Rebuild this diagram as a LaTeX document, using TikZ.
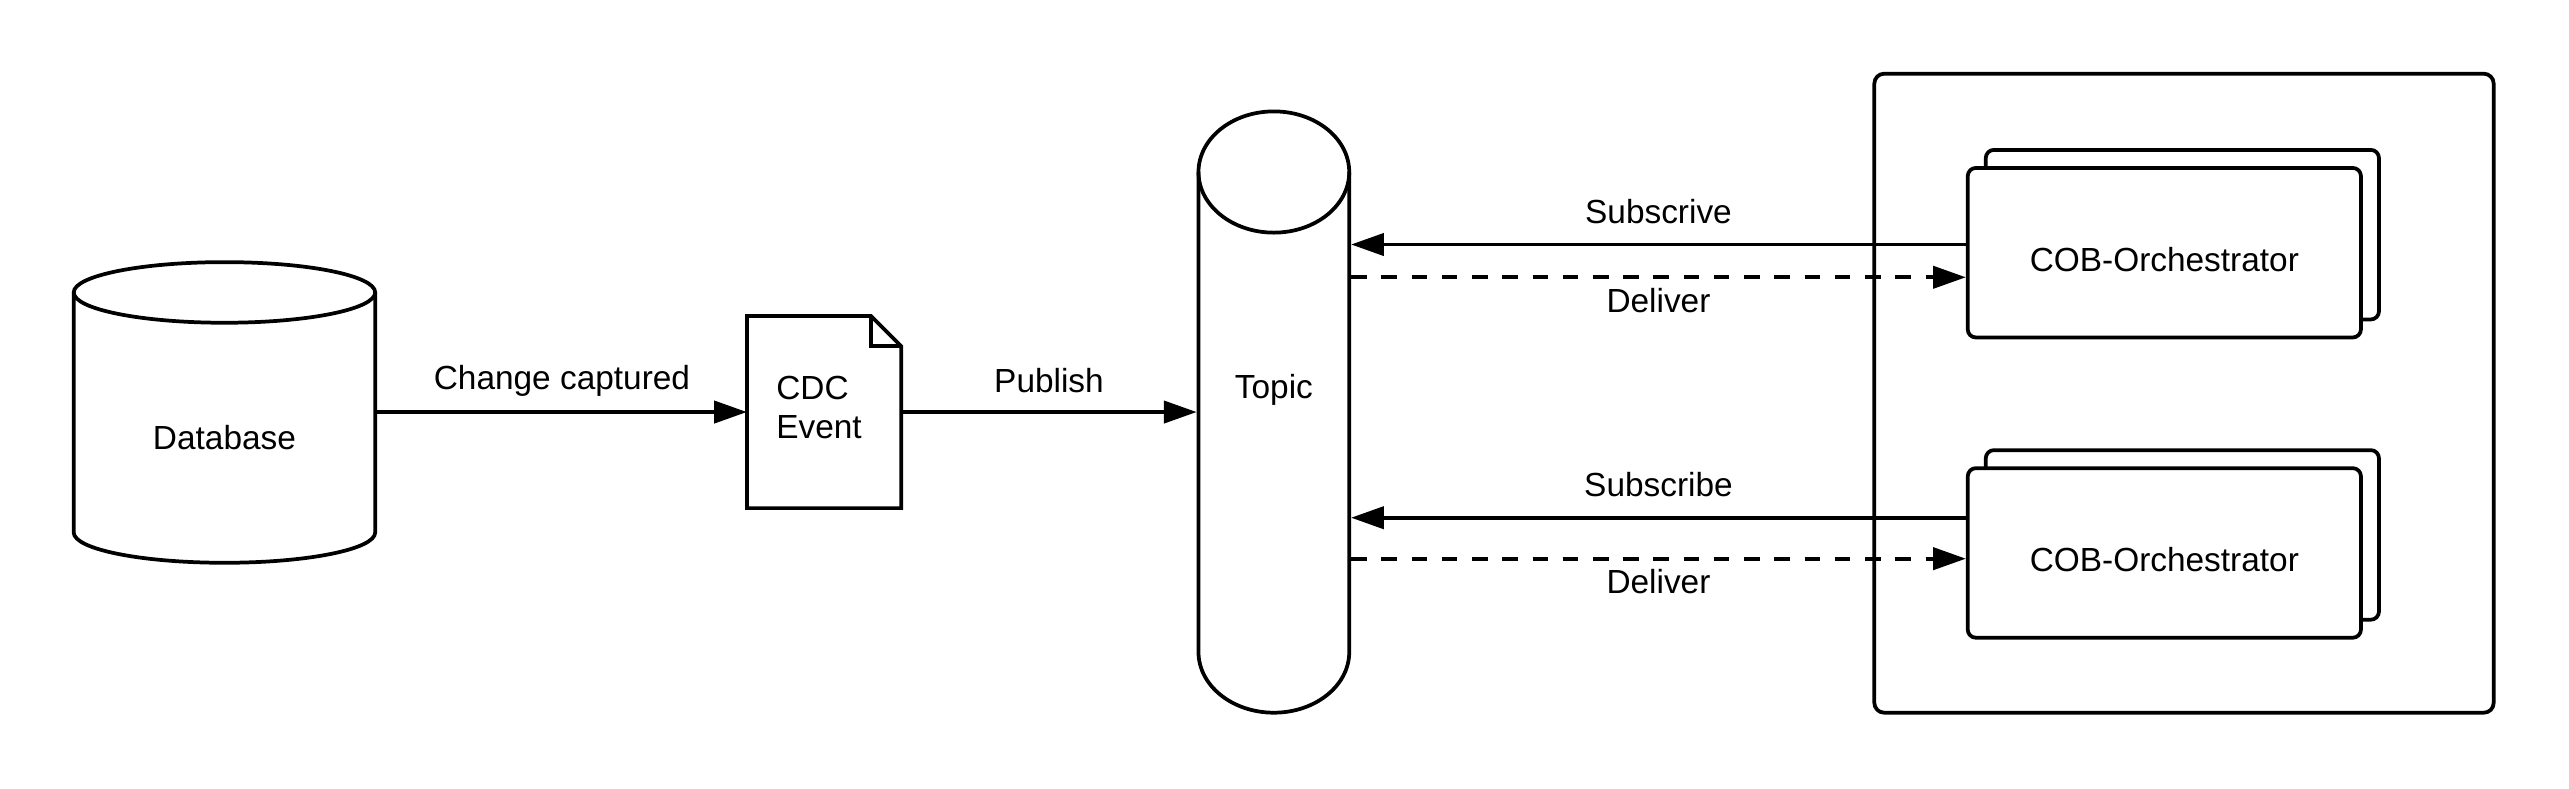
\documentclass[tikz,border=0pt]{standalone}
\usepackage{fontspec}
\setmainfont{Liberation Sans}
\usetikzlibrary{arrows.meta,calc}

\begin{document}
\begin{tikzpicture}[line width=1.3pt,font=\fontsize{11.6}{13.6}\selectfont,
	fleche/.style={-{Triangle[length=0.4cm,width=0.27cm]}},
	pointille/.style={fleche,dash pattern=on 5.4pt off 5.1pt},
	boite/.style={draw,fill=white,rounded corners=0.1cm,minimum width=4.8cm,minimum height=2.07cm}]
					%\draw[help lines] (0,0) grid (31,9);
					\useasboundingbox (0,0) rectangle (31.36,9.62);
					
					%DATABASE
					\draw (2.74,6.05) ellipse (1.84 and 0.37);
					\draw (0.9,6.05) -- (0.9,3.12) arc (180:360:1.84 and 0.37) -- (4.58,6.05);
					\node[minimum width=3.68cm,minimum height=2.92cm,inner sep=0] (db) at (2.74,4.28) {Database};
					
					%CDC EVENT
					\node[minimum width=1.84cm,minimum height=2.3cm,inner sep=0] (cdc) at (10.06,4.59) {};
					\draw (cdc.south west) -- (cdc.north west) -- ($(cdc.north east)+(-0.37,0)$) -- ($(cdc.north east)+(0,-0.37)$) -- (cdc.south east) -- cycle;
					\draw ($(cdc.north east)+(-0.37,0)$) |- ($(cdc.north east)+(0,-0.37)$);
					\node[align=left,anchor=west] (cdctxt) at ($(cdc.west)+(0.22,0.06)$) {CDC\\Event};
					\draw[fleche] (db.east |- cdc.west) -- (cdc.west) node[midway,yshift=0.38cm] (capture) {Change captured};
					
					%TOPIC
					\draw (15.55,7.52) ellipse (0.92 and 0.74);
					\draw (14.63,7.52) -- (14.63,1.66) arc (180:360:0.92 and 0.74) -- (16.47,7.52);
					\node[minimum width=1.84cm,minimum height=5.86cm,inner sep=0] (topic) at (15.55,4.59) {};
					\node (topictxt) at (15.55,4.86) {Topic};
					\draw[fleche] (cdc.east) -- (topic.west) node[midway,yshift=0.38cm] (publish) {Publish};
					
					%CONTENEUR
					\draw[rounded corners=0.12cm] (22.88,0.92) rectangle (30.44,8.72);
					
					%COB-ORCHESTRATOR
					\node[boite] (orc1b) at (26.64,6.755) {};
					\node[boite,text height=0.46cm,text depth=0cm] (orc1) at (26.42,6.535) {COB-Orchestrator};
					\node[boite] (orc2b) at (26.64,3.09) {};
					\node[boite,text height=0.46cm,text depth=0cm] (orc2) at (26.42,2.87) {COB-Orchestrator};
					
					%SUBSCRIBE ET DELIVER
					\coordinate (s1) at ($(orc1.west)+(0,0.1)$);
					\coordinate (d1) at ($(orc1.west)+(0,-0.3)$);
					\coordinate (s2) at ($(orc2.west)+(0,0.43)$);
					\coordinate (d2) at ($(orc2.west)+(0,-0.07)$);
					\draw[fleche] (s1) -- (s1 -| topic.east) node[midway,yshift=0.4cm] (sub1) {Subscrive};
					\draw[pointille] (d1 -| topic.east) -- (d1) node[midway,yshift=-0.28cm] (del1) {Deliver};
					\draw[fleche] (s2) -- (s2 -| topic.east) node[midway,yshift=0.4cm] (sub2) {Subscribe};
					\draw[pointille] (d2 -| topic.east) -- (d2) node[midway,yshift=-0.28cm] (del2) {Deliver};
				  \end{tikzpicture}
\end{document}
